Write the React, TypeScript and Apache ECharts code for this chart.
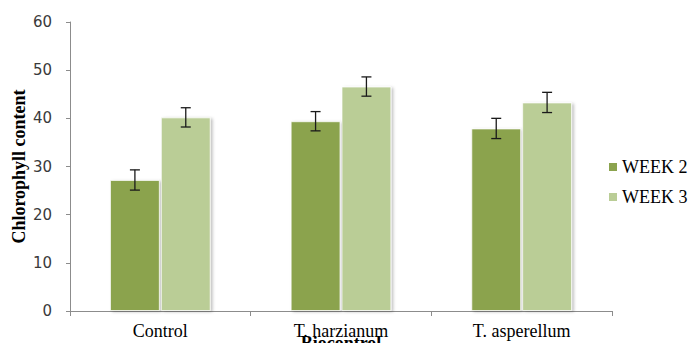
import React, { useEffect, useRef } from "react";
import * as echarts from "echarts";

const categories = ["Control", "T. harzianum", "T. asperellum"];
const seriesNames = ["WEEK 2", "WEEK 3"];
const week2 = [27.2, 39.4, 37.9];
const week3 = [40.2, 46.6, 43.3];
const week2Err = [2.1, 2.0, 2.1];
const week3Err = [2.0, 2.0, 2.1];
const yTicks = { min: 0, max: 60, interval: 10 };

const colors = ["#8ba34e", "#bacd96"];
const BAR_FRACTION = 0.276;
const BAR_GAP = 0.02;
const SERIF = "Liberation Serif";

function errorSeries(values: number[], errs: number[], side: number) {
  return {
    type: "custom",
    name: seriesNames[side < 0 ? 0 : 1] + " error",
    silent: true,
    z: 5,
    data: values.map((v, i) => [i, v - errs[i], v + errs[i]]),
    renderItem: (params: any, api: any) => {
      const idx = api.value(0);
      const lo = api.coord([idx, api.value(1)]);
      const hi = api.coord([idx, api.value(2)]);
      const band = api.size([1, 0])[0];
      const x = lo[0] + side * band * (BAR_FRACTION * (1 + BAR_GAP)) / 2;
      const cap = 5;
      const style = { stroke: "#1a1a1a", lineWidth: 1.3 };
      return {
        type: "group",
        children: [
          { type: "line", shape: { x1: x, y1: hi[1], x2: x, y2: lo[1] }, style },
          { type: "line", shape: { x1: x - cap, y1: hi[1], x2: x + cap, y2: hi[1] }, style },
          { type: "line", shape: { x1: x - cap, y1: lo[1], x2: x + cap, y2: lo[1] }, style },
        ],
      };
    },
  };
}

// Legend key drawn as plain graphics: a small swatch plus the series name.
function legendGraphics() {
  const left = 609;
  const firstY = 167;
  const step = 30;
  const items: any[] = [];
  seriesNames.forEach((name, i) => {
    const cy = firstY + i * step;
    items.push({
      type: "rect",
      left,
      top: cy - 4,
      shape: { x: 0, y: 0, width: 8, height: 8 },
      style: { fill: colors[i] },
    });
    items.push({
      type: "text",
      x: left + 13,
      y: cy,
      style: {
        text: name,
        fontFamily: SERIF,
        fontSize: 18,
        fill: "#000",
        verticalAlign: "middle",
        align: "left",
      },
    });
  });
  return items;
}

export default function App() {
  const ref = useRef<HTMLDivElement>(null);
  useEffect(() => {
    if (!ref.current) return;
    const chart = echarts.init(ref.current, undefined, { renderer: "svg" });
    const barStyle = (c: string) => ({
      color: c,
      borderColor: "rgba(255,255,255,0.7)",
      borderWidth: 1,
      shadowColor: "rgba(0,0,0,0.25)",
      shadowBlur: 3,
      shadowOffsetX: 2,
      shadowOffsetY: 1,
    });
    chart.setOption({
      animation: false,
      backgroundColor: "#ffffff",
      grid: {
        left: 70,
        right: 86,
        top: 22,
        bottom: 40,
        containLabel: false,
        outerBoundsMode: "none",
      },
      graphic: legendGraphics(),
      xAxis: {
        type: "category",
        data: categories,
        name: "Biocontrol",
        nameLocation: "middle",
        nameGap: 23,
        nameMoveOverlap: false,
        nameTextStyle: {
          fontFamily: SERIF,
          fontWeight: "bold",
          fontSize: 18,
          color: "#000",
        },
        axisLine: { lineStyle: { color: "#8c8c8c", width: 1 } },
        axisTick: { show: true, length: 5, lineStyle: { color: "#8c8c8c" } },
        axisLabel: {
          fontFamily: SERIF,
          fontSize: 18,
          color: "#000",
          margin: 11,
        },
      },
      yAxis: {
        type: "value",
        min: yTicks.min,
        max: yTicks.max,
        interval: yTicks.interval,
        name: "Chlorophyll content",
        nameLocation: "middle",
        nameGap: 42,
        nameMoveOverlap: false,
        nameTextStyle: {
          fontFamily: SERIF,
          fontWeight: "bold",
          fontSize: 18,
          color: "#000",
        },
        axisLine: { show: true, lineStyle: { color: "#8c8c8c", width: 1 } },
        axisTick: { show: true, length: 4, lineStyle: { color: "#8c8c8c" } },
        splitLine: { show: false },
        axisLabel: {
          fontFamily: "DejaVu Sans",
          fontSize: 15,
          color: "#3a3a3a",
          margin: 18,
        },
      },
      series: [
        {
          type: "bar",
          name: seriesNames[0],
          data: week2,
          barWidth: (BAR_FRACTION * 100).toFixed(1) + "%",
          barGap: (BAR_GAP * 100) + "%",
          itemStyle: barStyle(colors[0]),
        },
        {
          type: "bar",
          name: seriesNames[1],
          data: week3,
          barWidth: (BAR_FRACTION * 100).toFixed(1) + "%",
          barGap: (BAR_GAP * 100) + "%",
          itemStyle: barStyle(colors[1]),
        },
        errorSeries(week2, week2Err, -1),
        errorSeries(week3, week3Err, 1),
      ],
    });
    return () => chart.dispose();
  }, []);
  return (
    <div
      ref={ref}
      style={{ width: 698, height: 351, margin: -8, overflow: "hidden" }}
    />
  );
}
